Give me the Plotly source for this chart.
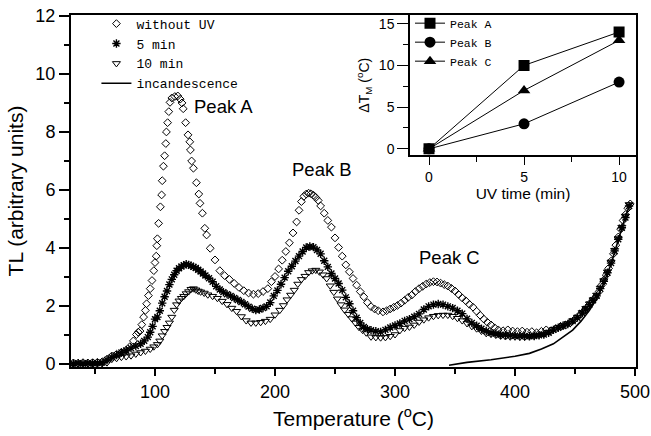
import plotly.graph_objects as go

# Glow curves: temperature (degC) and TL intensity (arbitrary units)
t_no_uv = [32, 36, 40, 44, 48, 52, 56, 60, 64, 68, 72, 76, 79, 82, 84.5, 86, 87.5, 89, 90.5, 92,
           93, 94.5, 96, 97.5, 99, 100, 101, 101.5, 102, 103, 104.5, 105.5, 106, 107, 108, 109,
           109.5, 110.5, 111.5, 112.5, 114, 116.5, 119, 121, 122.5, 123.5, 125.5, 127.5, 129,
           129.5, 130.5, 132, 134.5, 136.5, 137.5, 139.5, 141.5, 143, 146, 150, 154, 158, 162,
           166, 170, 174, 178, 182, 186, 190, 194, 197, 200, 203, 206, 209, 212, 215, 218, 220,
           222, 224, 226, 228, 230, 232, 234, 236, 238, 241, 244, 247, 250, 253, 256, 259, 262,
           265, 268, 271, 274, 277, 280, 283, 286, 290, 293, 296, 299, 302, 305, 308, 311, 314,
           317, 320, 323, 326, 329, 332, 335, 338, 341, 344, 347, 350, 353, 356, 359, 362, 365,
           368, 371, 374, 377, 380, 383, 386, 390, 394, 398, 402, 406, 410, 414, 418, 422, 426,
           430, 434, 438, 442, 446, 450, 454, 458, 461, 464, 467, 470, 472, 474, 476, 478, 480,
           482, 484, 486, 488, 490, 492, 494, 496]
tl_no_uv = [0.04, 0.03, 0.05, 0.04, 0.05, 0.06, 0.08, 0.17, 0.28, 0.34, 0.40, 0.48, 0.60, 0.80,
            1.02, 1.10, 1.14, 1.36, 1.62, 1.85, 2.08, 2.36, 2.60, 2.88, 3.22, 3.50, 3.72, 4.08,
            4.32, 4.85, 5.42, 5.83, 6.32, 6.82, 7.18, 7.60, 8.00, 8.32, 8.70, 9.02, 9.17, 9.22,
            9.24, 9.13, 9.00, 8.80, 8.32, 7.90, 7.66, 7.38, 7.00, 6.75, 6.25, 5.86, 5.54, 5.20,
            4.68, 4.45, 3.99, 3.59, 3.22, 3.05, 2.92, 2.78, 2.64, 2.53, 2.45, 2.41, 2.43, 2.50,
            2.60, 2.84, 3.02, 3.28, 3.58, 3.88, 4.18, 4.52, 4.90, 5.30, 5.60, 5.78, 5.86, 5.89,
            5.87, 5.82, 5.74, 5.64, 5.45, 5.20, 4.95, 4.72, 4.35, 4.02, 3.72, 3.42, 3.18, 2.95,
            2.72, 2.50, 2.32, 2.12, 1.98, 1.90, 1.84, 1.80, 1.84, 1.90, 1.96, 2.02, 2.10, 2.20,
            2.30, 2.38, 2.50, 2.60, 2.68, 2.76, 2.81, 2.84, 2.83, 2.79, 2.74, 2.69, 2.61, 2.52,
            2.40, 2.28, 2.18, 2.06, 1.96, 1.82, 1.68, 1.55, 1.44, 1.35, 1.25, 1.18, 1.15, 1.18,
            1.14, 1.12, 1.14, 1.10, 1.12, 1.08, 1.13, 1.18, 1.15, 1.22, 1.30, 1.34, 1.42, 1.55,
            1.70, 1.85, 2.00, 2.15, 2.30, 2.50, 2.72, 2.90, 3.07, 3.30, 3.55, 3.80, 4.10, 4.38,
            4.65, 4.95, 5.15, 5.37, 5.52]

t_5min = [32, 36, 40, 44, 48, 52, 56, 60, 64, 68, 72, 76, 80, 84, 88, 91, 94, 96, 98, 100, 102,
          104, 106, 108, 110, 112, 114, 116, 118, 120, 122, 124, 126, 128, 130, 132, 134, 136,
          138, 140, 142, 145, 148, 151, 154, 157, 160, 163, 166, 169, 172, 175, 178, 181, 184,
          187, 190, 193, 196, 199, 202, 205, 208, 211, 214, 217, 220, 223, 226, 229, 232, 235,
          238, 241, 244, 247, 250, 253, 256, 259, 262, 265, 268, 271, 274, 277, 280, 284, 288,
          292, 296, 300, 304, 308, 312, 316, 320, 324, 328, 332, 336, 340, 344, 348, 352, 356,
          360, 364, 368, 372, 376, 380, 384, 388, 392, 396, 400, 404, 408, 412, 416, 420, 424,
          428, 432, 436, 440, 444, 448, 452, 456, 459, 462, 465, 468, 471, 474, 477, 480, 483,
          486, 489, 492, 495]
tl_5min = [0.02, 0.03, 0.02, 0.03, 0.03, 0.04, 0.05, 0.14, 0.24, 0.31, 0.40, 0.47, 0.55, 0.62,
           0.70, 0.80, 0.93, 1.10, 1.30, 1.55, 1.62, 1.84, 2.10, 2.32, 2.52, 2.74, 2.92, 3.08,
           3.22, 3.30, 3.36, 3.41, 3.44, 3.42, 3.39, 3.35, 3.31, 3.25, 3.19, 3.12, 3.05, 2.96,
           2.84, 2.68, 2.57, 2.48, 2.41, 2.35, 2.28, 2.21, 2.14, 2.06, 1.98, 1.91, 1.86, 1.88,
           1.93, 1.99, 2.12, 2.35, 2.54, 2.75, 2.98, 3.20, 3.37, 3.55, 3.72, 3.88, 4.02, 4.05,
           4.03, 3.93, 3.80, 3.56, 3.35, 3.12, 2.95, 2.78, 2.55, 2.30, 2.08, 1.84, 1.60, 1.42,
           1.28, 1.20, 1.17, 1.13, 1.11, 1.18, 1.26, 1.33, 1.40, 1.49, 1.55, 1.63, 1.73, 1.88,
           1.99, 2.05, 2.07, 2.05, 1.99, 1.93, 1.84, 1.74, 1.56, 1.42, 1.32, 1.22, 1.14, 1.08,
           1.05, 1.01, 1.00, 0.99, 0.98, 0.97, 0.97, 0.96, 0.97, 0.99, 1.02, 1.08, 1.18, 1.25,
           1.32, 1.38, 1.48, 1.60, 1.76, 1.90, 2.05, 2.20, 2.35, 2.60, 2.85, 3.15, 3.48, 3.90,
           4.30, 4.70, 5.05, 5.45]

t_10min = [32, 36, 40, 44, 48, 52, 56, 60, 64, 68, 72, 76, 80, 84, 88, 92, 96, 99, 102, 104, 106,
           108, 110, 112, 114, 116, 118, 120, 122, 124, 126, 128, 130, 132, 134, 136, 138, 141,
           144, 148, 152, 156, 160, 164, 168, 172, 176, 180, 184, 188, 192, 196, 200, 204, 207,
           210, 213, 216, 219, 222, 225, 228, 231, 234, 237, 240, 243, 246, 249, 252, 255, 258,
           261, 264, 267, 270, 273, 276, 280, 284, 288, 292, 296, 300, 304, 308, 312, 316, 320,
           324, 328, 332, 336, 340, 344, 348, 352, 356, 360, 364, 368, 372, 376, 380, 384, 388,
           392, 396, 400, 404, 408, 412, 416, 420, 424, 428, 432, 436, 440, 444, 448, 452, 456,
           459, 462, 465, 468, 471, 474, 477, 480, 483, 486, 489, 492, 495]
tl_10min = [0.00, 0.01, 0.00, 0.01, 0.00, 0.01, 0.02, 0.05, 0.17, 0.20, 0.24, 0.26, 0.29, 0.35,
            0.40, 0.45, 0.52, 0.60, 0.68, 0.80, 0.98, 1.13, 1.27, 1.42, 1.62, 1.86, 2.05, 2.18,
            2.27, 2.34, 2.43, 2.50, 2.58, 2.60, 2.56, 2.52, 2.49, 2.45, 2.39, 2.34, 2.27, 2.17,
            2.06, 1.93, 1.82, 1.64, 1.50, 1.42, 1.42, 1.44, 1.48, 1.55, 1.70, 1.86, 2.02, 2.22,
            2.38, 2.55, 2.76, 2.92, 3.03, 3.16, 3.22, 3.24, 3.18, 3.08, 2.95, 2.70, 2.48, 2.25,
            2.05, 1.87, 1.72, 1.57, 1.42, 1.27, 1.17, 1.08, 0.94, 0.92, 0.91, 0.92, 0.96, 1.02,
            1.16, 1.24, 1.28, 1.35, 1.45, 1.53, 1.60, 1.65, 1.68, 1.69, 1.69, 1.65, 1.58, 1.50,
            1.40, 1.30, 1.22, 1.14, 1.06, 1.03, 1.00, 0.97, 0.95, 0.94, 0.94, 0.93, 0.93, 0.95,
            0.96, 1.00, 1.04, 1.10, 1.20, 1.26, 1.32, 1.40, 1.50, 1.62, 1.78, 1.92, 2.08, 2.22,
            2.38, 2.62, 2.88, 3.18, 3.52, 3.92, 4.32, 4.72, 5.10, 5.50]

t_incand = [345, 360, 380, 400, 412, 422, 432, 440, 448, 455, 462, 468, 474, 480, 486, 491, 496]
tl_incand = [-0.04, 0.06, 0.15, 0.27, 0.37, 0.52, 0.70, 0.92, 1.17, 1.48, 1.85, 2.25, 2.80,
             3.45, 4.30, 4.95, 5.55]

# Peak labels (position in data coordinates)
peak_names = ["Peak A", "Peak B", "Peak C"]
peak_label_t = [156.7, 238.9, 345.8]
peak_label_tl = [8.86, 6.69, 3.66]

# Inset: shift of peak temperature vs UV exposure time
uv_time = [0, 5, 10]
dtm_a = [0, 10, 14]
dtm_b = [0, 3, 8]
dtm_c = [0, 7, 13]

SANS = "Liberation Sans, Arial, sans-serif"
MONO = "Liberation Mono, Courier New, monospace"
BLACK = "black"

fig = go.Figure()

fig.add_trace(go.Scatter(
    x=t_no_uv, y=tl_no_uv, mode="markers", name="without UV",
    marker=dict(symbol="diamond-open", size=6, color=BLACK, line=dict(width=1, color=BLACK)),
))
fig.add_trace(go.Scatter(
    x=t_5min, y=tl_5min, mode="markers", name="5 min",
    marker=dict(symbol="asterisk-open", size=7, color=BLACK, line=dict(width=1.4, color=BLACK)),
))
fig.add_trace(go.Scatter(
    x=t_10min, y=tl_10min, mode="markers", name="10 min",
    marker=dict(symbol="triangle-down-open", size=7, color=BLACK, line=dict(width=1, color=BLACK)),
))
fig.add_trace(go.Scatter(
    x=t_incand, y=tl_incand, mode="lines", name="incandescence",
    line=dict(color=BLACK, width=1.6),
))

inset_series = [
    ("Peak A", dtm_a, "square"),
    ("Peak B", dtm_b, "circle"),
    ("Peak C", dtm_c, "triangle-up"),
]
for name, vals, sym in inset_series:
    fig.add_trace(go.Scatter(
        x=uv_time, y=vals, mode="lines+markers", name=name,
        xaxis="x2", yaxis="y2", legend="legend2",
        line=dict(color=BLACK, width=1),
        marker=dict(symbol=sym, size=11, color=BLACK),
    ))

for name, tx, ty in zip(peak_names, peak_label_t, peak_label_tl):
    fig.add_annotation(x=tx, y=ty, text=name, showarrow=False, xref="x", yref="y",
                       font=dict(family=SANS, size=18.5, color=BLACK))

axis_common = dict(showline=True, linecolor=BLACK, mirror=True, showgrid=False,
                   zeroline=False, ticks="outside", tickcolor=BLACK, automargin=False)

fig.update_layout(
    width=651, height=436,
    margin=dict(l=71, r=15, t=15, b=69, autoexpand=False),
    paper_bgcolor="white", plot_bgcolor="white",
    font=dict(family=SANS, color=BLACK),
    xaxis=dict(
        **axis_common, linewidth=2, range=[30, 500.8], tick0=0, dtick=100,
        ticklen=7, tickwidth=1.5, tickfont=dict(size=18, family=SANS),
        minor=dict(dtick=50, ticklen=5, ticks="outside", tickcolor=BLACK, tickwidth=1.5),
        title=dict(text="Temperature (<sup>o</sup>C)", font=dict(size=21, family=SANS), standoff=11),
    ),
    yaxis=dict(
        **axis_common, linewidth=2, range=[-0.1, 12.03], tick0=0, dtick=2,
        ticklen=10, tickwidth=1.5, tickfont=dict(size=18, family=SANS),
        minor=dict(dtick=1, ticklen=5, ticks="outside", tickcolor=BLACK, tickwidth=1.5),
        title=dict(text="TL (arbitrary units)", font=dict(size=21, family=SANS), standoff=6),
    ),
    xaxis2=dict(
        **axis_common, linewidth=1.5, domain=[0.6, 1.0], anchor="y2",
        range=[-1.0, 10.89], tick0=0, dtick=5, ticklen=8, tickwidth=1.2,
        tickfont=dict(size=14, family=SANS),
        minor=dict(dtick=2.5, ticklen=5, ticks="outside", tickcolor=BLACK, tickwidth=1.2),
        title=dict(text="UV time (min)", font=dict(size=15.5, family=SANS), standoff=2),
    ),
    yaxis2=dict(
        **axis_common, linewidth=1.5, domain=[0.601, 1.0], anchor="x2",
        range=[-0.79, 16.04], tick0=0, dtick=5, ticklen=11, tickwidth=1.2,
        tickfont=dict(size=14, family=SANS),
        minor=dict(dtick=2.5, ticklen=5, ticks="outside", tickcolor=BLACK, tickwidth=1.2),
        title=dict(text="ΔT<sub>M</sub> (<sup>o</sup>C)", font=dict(size=14, family=SANS), standoff=6),
    ),
    legend=dict(
        x=0.045, y=1.018, xanchor="left", yanchor="top",
        bgcolor="rgba(0,0,0,0)", borderwidth=0,
        font=dict(family=MONO, size=13, color=BLACK),
        tracegroupgap=0, itemwidth=30,
    ),
    legend2=dict(
        x=0.6, y=1.018, xanchor="left", yanchor="top",
        bgcolor="rgba(0,0,0,0)", borderwidth=0,
        font=dict(family=MONO, size=11.5, color=BLACK),
        tracegroupgap=0, itemwidth=30,
    ),
    showlegend=True,
)

fig.write_html("out.html")
